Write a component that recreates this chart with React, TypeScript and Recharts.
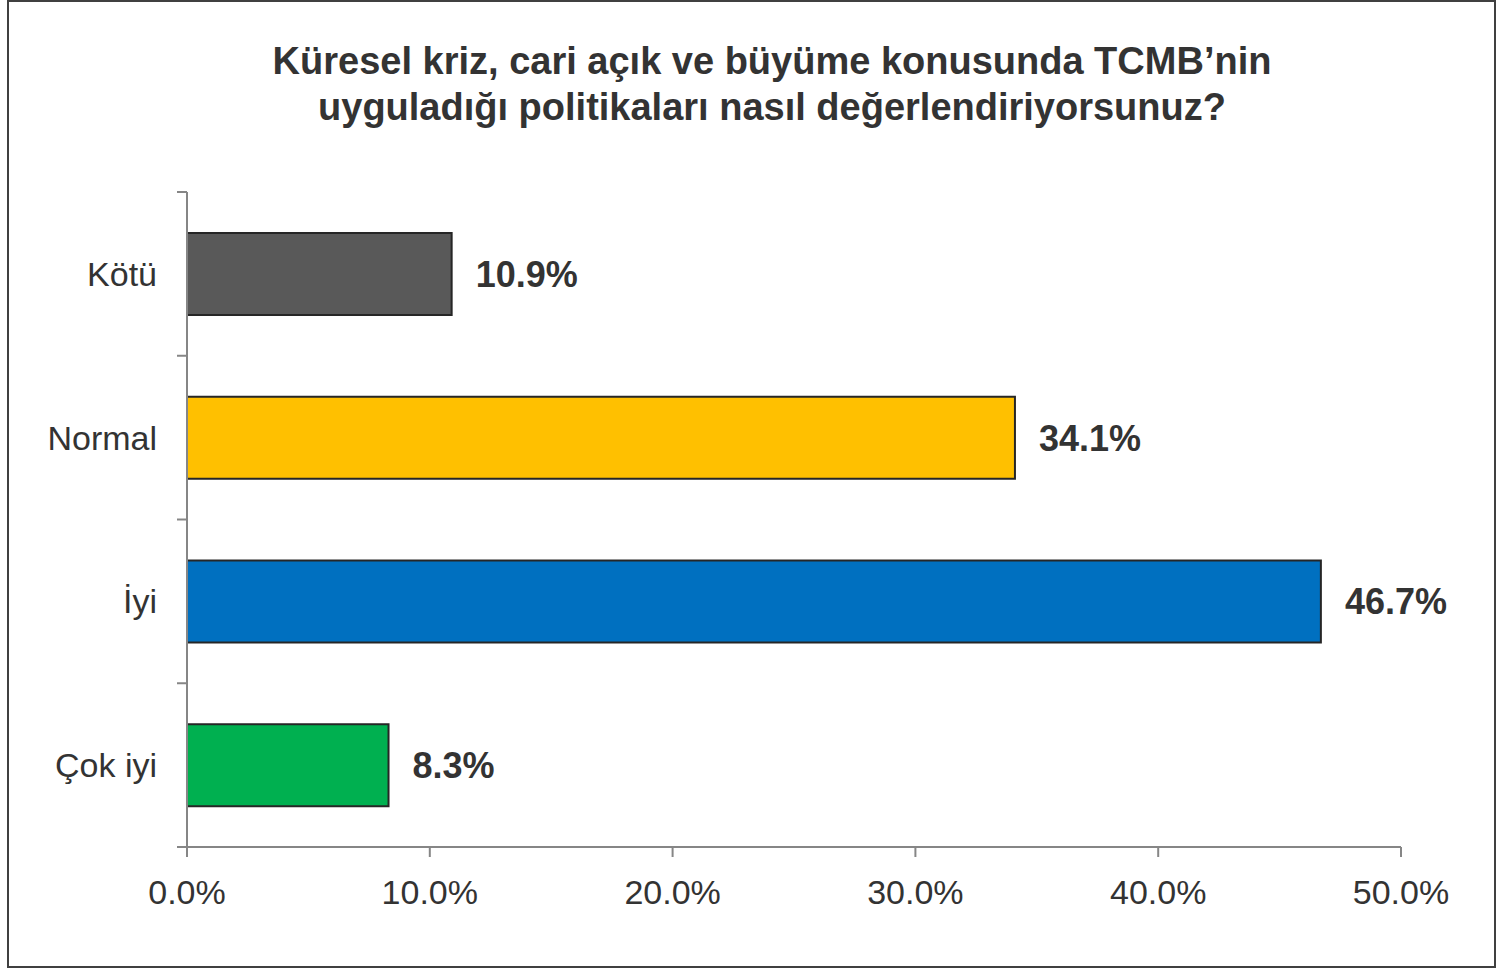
import React from 'react';
import { ComposedChart, Bar, XAxis, YAxis, Cell, LabelList } from 'recharts';

const categories = ['Kötü', 'Normal', 'İyi', 'Çok iyi'];
const values = [10.9, 34.1, 46.7, 8.3];
const colors = ['#595959', '#FFC000', '#0070C0', '#00B050'];
const xTicks = [0, 10, 20, 30, 40, 50];
const titleLines = [
  'Küresel kriz, cari açık ve büyüme konusunda TCMB’nin',
  'uyguladığı politikaları nasıl değerlendiriyorsunuz?',
];

const data = categories.map((c, i) => ({ name: c, value: values[i] }));

const FONT = '"Liberation Sans", Arial, sans-serif';
const AXIS = '#868686';
const TEXT = '#333333';

const CHART_W = 1512;
const CHART_H = 969;
const MARGIN = { top: 192, right: 111, bottom: 62, left: 0 };
const X_AXIS_H = 60;
const TICK_MARGIN = 30;
const TICK_LEN = 10;
const BAND = (CHART_H - MARGIN.top - MARGIN.bottom - X_AXIS_H) / categories.length;

const CategoryTick = (props: any) => {
  const { x, y, payload, index } = props;
  const ax = x + TICK_MARGIN;
  return (
    <g>
      <line x1={ax - TICK_LEN} x2={ax} y1={y - BAND / 2} y2={y - BAND / 2} stroke={AXIS} strokeWidth={2} />
      {index === categories.length - 1 && (
        <line x1={ax - TICK_LEN} x2={ax} y1={y + BAND / 2} y2={y + BAND / 2} stroke={AXIS} strokeWidth={2} />
      )}
      <text x={x} y={y} dy="0.355em" textAnchor="end" fontSize={34} fill={TEXT} fontFamily={FONT}>
        {payload.value}
      </text>
    </g>
  );
};

const fmt = (v: any) => Number(v).toFixed(1) + '%';

export default function App() {
  return (
    <div style={{ position: 'absolute', left: 0, top: 0, width: 1512, height: 969, background: '#fff', fontFamily: FONT }}>
      <div
        style={{
          position: 'absolute',
          left: 7,
          top: 0,
          width: 1489,
          height: 968,
          boxSizing: 'border-box',
          border: '2px solid #404040',
        }}
      />
      <div
        style={{
          position: 'absolute',
          left: 0,
          top: 38,
          width: 1544,
          textAlign: 'center',
          fontWeight: 'bold',
          fontSize: 38,
          lineHeight: '46px',
          color: TEXT,
        }}
      >
        {titleLines.map((l, i) => (
          <div key={i}>{l}</div>
        ))}
      </div>
      <div style={{ position: 'absolute', left: 0, top: 0 }}>
        <ComposedChart
          width={CHART_W}
          height={CHART_H}
          data={data}
          layout="vertical"
          margin={MARGIN}
        >
          <XAxis
            type="number"
            xAxisId="x"
            domain={[0, 50]}
            ticks={xTicks}
            height={X_AXIS_H}
            tickFormatter={fmt}
            tick={{ fontSize: 34, fill: TEXT, fontFamily: FONT }}
            stroke={AXIS}
            strokeWidth={2}
            tickSize={TICK_LEN}
            tickMargin={23}
          />
          <YAxis
            type="category"
            yAxisId="y"
            dataKey="name"
            width={187}
            stroke={AXIS}
            strokeWidth={2}
            tickLine={false}
            tickMargin={TICK_MARGIN - 6}
            tick={<CategoryTick />}
          />
          <Bar
            dataKey="value"
            xAxisId="x"
            yAxisId="y"
            barSize={82}
            fill="#595959"
            stroke="#262626"
            strokeWidth={2}
            isAnimationActive={false}
          >
            {data.map((d, i) => (
              <Cell key={'c' + i} fill={colors[i]} />
            ))}
            <LabelList
              dataKey="value"
              position="right"
              offset={24}
              formatter={fmt}
              style={{ fontSize: 36, fontWeight: 'bold', fill: TEXT, fontFamily: FONT }}
            />
          </Bar>
        </ComposedChart>
      </div>
    </div>
  );
}
